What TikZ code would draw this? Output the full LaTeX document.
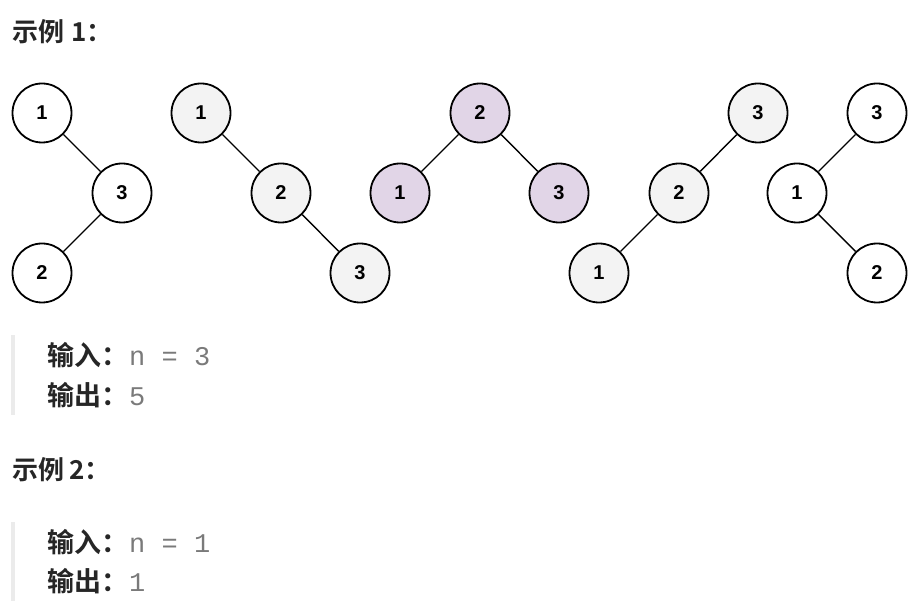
\documentclass[tikz,border=0pt]{standalone}
\usepackage{fontspec}
\setmainfont{Liberation Sans}
\newfontfamily\cjkb{Noto Sans CJK SC Bold}
\newfontfamily\monof{Liberation Mono}
\definecolor{txt}{HTML}{262626}
\definecolor{mono}{HTML}{7A7A7A}
\definecolor{gfill}{HTML}{F3F3F3}
\definecolor{pfill}{HTML}{E1D5E7}
\definecolor{bar}{HTML}{EBEBEB}
\tikzset{
  tn/.style={circle, draw=black, line width=1.8pt, minimum size=59pt, inner sep=0pt,
    font=\fontsize{20}{20}\selectfont\bfseries, text=black},
  wn/.style={tn, fill=white},
  gn/.style={tn, fill=gfill},
  pn/.style={tn, fill=pfill},
  ed/.style={line width=1.4pt, draw=black},
  head/.style={anchor=west, inner sep=0pt, font=\fontsize{26}{26}\cjkb, text=txt},
  io/.style={anchor=west, inner sep=0pt, font=\fontsize{27}{27}\cjkb, text=txt},
  qbar/.style={fill=bar, draw=none}
}
\newcommand{\mtext}[1]{{\color{mono}\fontsize{27}{27}\monof #1}}
\begin{document}
\begin{tikzpicture}[x=1pt,y=-1pt]
\useasboundingbox (0,0) rectangle (924,601);
% headings
\node[head] (h1) at (12,32) {示例\hspace{7pt}1：};
\node[head] (h2) at (12,470) {示例\hspace{5pt}2：};
% quote bars
\fill[qbar] (11,335) rectangle (15,415);
\fill[qbar] (11,522) rectangle (15,601);
% io lines
\node[io] (i1) at (47,355) {输入：\hspace{1pt}\mtext{n = 3}};
\node[io] (o1) at (47,395) {输出：\hspace{1pt}\mtext{5}};
\node[io] (i2) at (47,542) {输入：\hspace{1pt}\mtext{n = 1}};
\node[io] (o2) at (47,581) {输出：\hspace{1pt}\mtext{1}};
% tree 1
\node[wn] (a1) at (42,113) {1};
\node[wn] (a3) at (122,193) {3};
\node[wn] (a2) at (42,273) {2};
\draw[ed] (a1) -- (a3);
\draw[ed] (a3) -- (a2);
% tree 2
\node[gn] (b1) at (201,113) {1};
\node[gn] (b2) at (281,193) {2};
\node[gn] (b3) at (360,273) {3};
\draw[ed] (b1) -- (b2);
\draw[ed] (b2) -- (b3);
% tree 3
\node[pn] (c2) at (480,113) {2};
\node[pn] (c1) at (400,193) {1};
\node[pn] (c3) at (559,193) {3};
\draw[ed] (c2) -- (c1);
\draw[ed] (c2) -- (c3);
% tree 4
\node[gn] (d3) at (758,113) {3};
\node[gn] (d2) at (679,193) {2};
\node[gn] (d1) at (599,273) {1};
\draw[ed] (d3) -- (d2);
\draw[ed] (d2) -- (d1);
% tree 5
\node[wn] (e3) at (877,113) {3};
\node[wn] (e1) at (797,193) {1};
\node[wn] (e2) at (877,273) {2};
\draw[ed] (e3) -- (e1);
\draw[ed] (e1) -- (e2);
\end{tikzpicture}
\end{document}
